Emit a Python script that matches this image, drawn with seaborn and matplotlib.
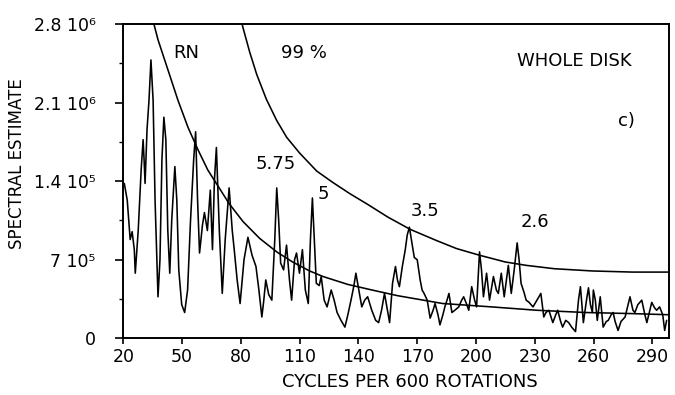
import matplotlib
matplotlib.use("Agg")
import matplotlib.pyplot as plt
import seaborn as sns
from matplotlib.ticker import FixedLocator

# ---------------- data ----------------
spec_x = [20.5, 22.0, 23.5, 24.5, 25.6, 26.1, 27.6, 28.6, 29.1, 30.1,
          30.6, 31.1, 32.1, 33.1, 34.1, 35.2, 36.2, 37.7, 38.7, 39.7,
          40.7, 41.7, 42.7, 43.7, 44.7, 46.3, 47.3, 48.3, 49.8, 51.3,
          52.8, 54.3, 55.9, 56.9, 57.9, 58.9, 60.4, 61.4, 62.9, 64.4,
          65.5, 66.5, 67.5, 69.0, 70.5, 72.0, 74.0, 75.6, 76.6, 78.1,
          79.6, 81.6, 83.6, 85.7, 87.7, 89.2, 90.7, 91.7, 92.7, 94.2,
          95.8, 97.3, 98.3, 99.3, 100.3, 101.8, 103.3, 104.8, 105.9, 107.4,
          108.4, 109.9, 111.4, 112.9, 114.4, 115.5, 116.5, 117.5, 118.5, 120.0,
          121.0, 122.5, 124.0, 126.1, 127.6, 129.1, 131.1, 133.1, 134.6, 136.2,
          137.7, 138.7, 140.2, 141.7, 143.2, 144.7, 146.8, 148.8, 150.3, 151.8,
          153.3, 154.3, 155.9, 157.4, 158.9, 159.9, 160.9, 162.4, 163.9, 164.9,
          166.0, 167.0, 168.5, 170.0, 171.5, 172.5, 173.5, 175.1, 176.6, 178.1,
          179.1, 180.6, 181.6, 183.1, 184.1, 185.2, 186.2, 187.7, 189.2, 191.2,
          192.7, 193.7, 195.3, 196.3, 197.8, 199.3, 200.3, 201.8, 202.8, 203.8,
          205.4, 206.9, 208.9, 210.4, 211.4, 212.9, 214.4, 216.5, 218.0, 219.5,
          221.0, 222.0, 223.0, 224.5, 225.6, 227.1, 229.1, 231.1, 233.1, 234.6,
          235.7, 237.2, 239.2, 240.7, 241.7, 243.2, 244.2, 245.8, 247.3, 248.8,
          250.8, 252.3, 253.3, 254.8, 256.4, 257.4, 258.4, 259.4, 259.9, 260.9,
          261.9, 263.4, 264.9, 266.5, 267.5, 269.0, 270.0, 271.0, 272.5, 274.0,
          276.1, 277.6, 278.6, 280.1, 281.1, 282.6, 284.6, 286.2, 287.2, 288.7,
          289.7, 291.2, 292.2, 293.7, 295.3, 296.3, 297.3]
spec_y = [1.38, 1.23, 0.88, 0.95, 0.79, 0.58, 0.96, 1.32, 1.50, 1.77,
          1.59, 1.38, 1.86, 2.12, 2.48, 2.12, 1.23, 0.37, 0.70, 1.59,
          1.97, 1.77, 0.96, 0.58, 1.05, 1.53, 1.23, 0.61, 0.30, 0.23,
          0.43, 1.05, 1.59, 1.84, 1.23, 0.76, 1.01, 1.12, 0.96, 1.32,
          0.79, 1.41, 1.70, 0.96, 0.40, 0.88, 1.34, 0.96, 0.79, 0.52,
          0.31, 0.70, 0.90, 0.74, 0.64, 0.43, 0.19, 0.34, 0.52, 0.39,
          0.34, 0.88, 1.34, 1.05, 0.67, 0.61, 0.83, 0.52, 0.34, 0.70,
          0.76, 0.58, 0.79, 0.43, 0.31, 0.88, 1.25, 0.88, 0.49, 0.47,
          0.55, 0.34, 0.28, 0.43, 0.34, 0.23, 0.16, 0.10, 0.21, 0.34,
          0.47, 0.58, 0.43, 0.28, 0.34, 0.37, 0.25, 0.16, 0.14, 0.25,
          0.40, 0.30, 0.14, 0.49, 0.64, 0.52, 0.46, 0.64, 0.79, 0.92,
          0.99, 0.88, 0.72, 0.70, 0.52, 0.43, 0.40, 0.34, 0.18, 0.25,
          0.31, 0.21, 0.12, 0.21, 0.28, 0.34, 0.40, 0.23, 0.25, 0.28,
          0.34, 0.37, 0.30, 0.25, 0.46, 0.34, 0.28, 0.77, 0.61, 0.37,
          0.58, 0.34, 0.55, 0.43, 0.40, 0.58, 0.37, 0.65, 0.40, 0.61,
          0.85, 0.70, 0.49, 0.41, 0.34, 0.32, 0.28, 0.34, 0.40, 0.19,
          0.23, 0.25, 0.14, 0.21, 0.25, 0.15, 0.10, 0.16, 0.14, 0.10,
          0.06, 0.34, 0.46, 0.14, 0.34, 0.45, 0.30, 0.23, 0.43, 0.34,
          0.16, 0.37, 0.10, 0.15, 0.16, 0.21, 0.23, 0.15, 0.07, 0.15,
          0.19, 0.30, 0.37, 0.25, 0.23, 0.30, 0.34, 0.21, 0.14, 0.25,
          0.32, 0.27, 0.25, 0.28, 0.21, 0.07, 0.16]

rn_x = [35.6, 37.7, 42.8, 47.9, 53.0, 58.1, 63.1, 68.2, 74.0, 81.1,
        89.6, 98.3, 106.4, 115.1, 122.0, 134.6, 147.0, 159.9, 183.0, 207.9,
        231.0, 255.8, 280.0, 298.5]
rn_y = [2.80, 2.66, 2.39, 2.12, 1.88, 1.68, 1.50, 1.36, 1.20, 1.04,
        0.89, 0.77, 0.68, 0.60, 0.55, 0.48, 0.43, 0.38, 0.31, 0.28,
        0.25, 0.23, 0.22, 0.21]

p99_x = [80.6, 81.5, 84.5, 88.1, 93.0, 98.3, 103.4, 110.0, 118.7, 126.8,
         135.5, 145.0, 155.0, 166.5, 180.0, 190.0, 201.8, 215.0, 225.6, 240.0,
         259.4, 280.0, 298.5]
p99_y = [2.80, 2.74, 2.55, 2.35, 2.13, 1.94, 1.79, 1.65, 1.49, 1.39,
         1.29, 1.19, 1.08, 0.97, 0.87, 0.80, 0.74, 0.68, 0.65, 0.62,
         0.60, 0.59, 0.59]

x_ticks = [20, 50, 80, 110, 140, 170, 200, 230, 260, 290]
y_ticks = [0, 0.7, 1.4, 2.1, 2.8]
y_tick_labels = ["0", "7 10\u2075", "1.4 10\u2075", "2.1 10\u2076", "2.8 10\u2076"]
y_minor_ticks = [0.35, 1.05, 1.75, 2.45]

note_texts = ["RN", "99 %", "WHOLE DISK", "c)", "5.75", "5", "3.5", "2.6"]
x_label = "CYCLES PER 600 ROTATIONS"
y_label = "SPECTRAL ESTIMATE"

# ---------------- style ----------------
sns.set_theme(style="ticks")
plt.rcParams["font.family"] = ["DejaVu Sans"]

fig = plt.figure(figsize=(6.75, 3.95), dpi=100)
ax = fig.add_axes([0.1827, 0.1435, 0.8084, 0.7957])

lw = 1.15
sns.lineplot(x=spec_x, y=spec_y, ax=ax, color="black", linewidth=lw,
             estimator=None, sort=False)
sns.lineplot(x=rn_x, y=rn_y, ax=ax, color="black", linewidth=lw,
             estimator=None, sort=False)
sns.lineplot(x=p99_x, y=p99_y, ax=ax, color="black", linewidth=lw,
             estimator=None, sort=False)

ax.set_xlim(20, 298.5)
ax.set_ylim(0, 2.8)

ax.xaxis.set_major_locator(FixedLocator(x_ticks))
ax.set_xticklabels([str(t) for t in x_ticks])
ax.yaxis.set_major_locator(FixedLocator(y_ticks))
ax.set_yticklabels(y_tick_labels)
ax.yaxis.set_minor_locator(FixedLocator(y_minor_ticks))

for s in ax.spines.values():
    s.set_visible(True)
    s.set_color("black")
    s.set_linewidth(1.4)

ax.tick_params(axis="x", which="major", direction="out", length=4, width=1.2,
               colors="black", labelsize=12.5, pad=3, bottom=True)
ax.tick_params(axis="y", which="major", direction="out", length=6, width=1.2,
               colors="black", labelsize=12.5, pad=14, left=True)
ax.tick_params(axis="y", which="minor", direction="out", length=3, width=1.0,
               colors="black", left=True)

ax.set_xlabel(x_label, fontsize=13, color="black")
ax.xaxis.set_label_coords(0.525, -0.110)
ax.set_ylabel(y_label, fontsize=12, color="black")
ax.yaxis.set_label_coords(-0.178, 0.555)

note_pos = [(52.3, 2.54), (112, 2.54), (250, 2.47), (277, 1.94),
            (98, 1.55), (122, 1.29), (174, 1.13), (230, 1.04)]
for txt, (tx, ty) in zip(note_texts, note_pos):
    ax.text(tx, ty, txt, ha="center", va="center", fontsize=13, color="black")

ax.grid(False)
fig.savefig("out.png", dpi=100, facecolor="white")
